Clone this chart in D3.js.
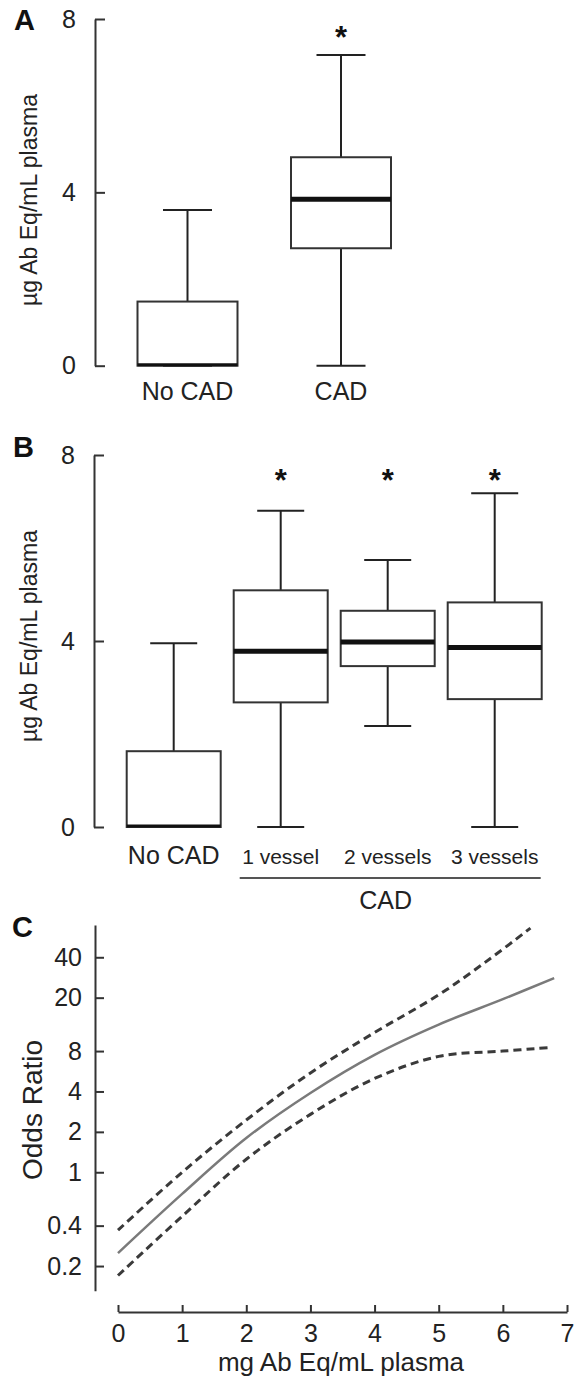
<!DOCTYPE html>
<html>
<head>
<meta charset="utf-8">
<script src="https://cdn.jsdelivr.net/npm/d3@7"></script>
<style>
  body { margin: 0; background: #fff; }
  svg { display: block; font-family: "Liberation Sans", Arial, sans-serif; }
  .axis path, .axis line { stroke: #333; stroke-width: 2; }
  .axis text { fill: #222; }
</style>
</head>
<body>
<svg width="578" height="1379"></svg>
<script>
// Panel A - box plot, No CAD vs CAD
var catsA = ["No CAD", "CAD"];
var loA = [0, 0];
var q1A = [0, 2.71];
var medA = [0, 3.84];
var q3A = [1.48, 4.81];
var hiA = [3.59, 7.17];
var starA = [false, true];

// Panel B - box plot by number of vessels
var catsB = ["No CAD", "1 vessel", "2 vessels", "3 vessels"];
var loB = [0, 0, 2.17, 0];
var q1B = [0, 2.68, 3.46, 2.75];
var medB = [0, 3.78, 3.98, 3.86];
var q3B = [1.63, 5.09, 4.65, 4.83];
var hiB = [3.95, 6.80, 5.74, 7.18];
var starB = [false, true, true, true];

var boxTicks = [0, 4, 8];

// Panel C - odds ratio curve with confidence bands
var fitX = [0, 1, 2, 3, 4, 5, 6, 6.8];
var fitY = [0.25, 0.69, 1.8, 3.9, 7.5, 12.6, 19.5, 28];
var upX = [0, 1, 2, 3, 4, 5, 5.8, 6.43];
var upY = [0.37, 1.0, 2.45, 5.5, 11.0, 21, 39, 66];
var lowX = [0, 1, 2, 3, 4, 5, 6, 6.73];
var lowY = [0.17, 0.47, 1.25, 2.7, 5.0, 7.3, 8.0, 8.5];
var orTicks = [0.2, 0.4, 1, 2, 4, 8, 20, 40];
var xTicksC = [0, 1, 2, 3, 4, 5, 6, 7];

var svg = d3.select("svg");
svg.append("rect").attr("width", 578).attr("height", 1379).attr("fill", "#fff");

function panelLabel(txt, x, y) {
    svg.append("text")
        .attr("x", x).attr("y", y)
        .attr("font-size", 29).attr("font-weight", "bold")
        .attr("fill", "#111")
        .text(txt);
}

function yTitle(txt, x, y, size) {
    svg.append("text")
        .attr("transform", "translate(" + x + "," + y + ") rotate(-90)")
        .attr("text-anchor", "middle")
        .attr("font-size", size)
        .attr("fill", "#222")
        .text(txt);
}

/*
Draws one box plot panel
*/
function boxPanel(o) {
    var y = d3.scaleLinear().domain([0, 8]).range([o.y0, o.y8]);
    var x = d3.scalePoint().domain(o.cats).range([o.c0, o.c1]);
    var g = svg.append("g");

    g.append("g")
        .attr("class", "axis")
        .attr("transform", "translate(" + o.axisX + ",0)")
        .call(d3.axisLeft(y).tickValues(boxTicks).tickSizeInner(-10).tickSizeOuter(0).tickPadding(19))
        .call(function(a) { a.selectAll("text").attr("font-size", 25); });

    var rows = o.cats.map(function(c, i) {
        return {cat: c, lo: o.lo[i], q1: o.q1[i], med: o.med[i], q3: o.q3[i], hi: o.hi[i], star: o.star[i]};
    });

    var b = g.selectAll(".bx").data(rows).enter().append("g").attr("class", "bx");

    // whiskers
    b.append("line")
        .attr("x1", function(d) { return x(d.cat); })
        .attr("x2", function(d) { return x(d.cat); })
        .attr("y1", function(d) { return y(d.hi); })
        .attr("y2", function(d) { return y(d.q3); })
        .attr("stroke", "#222").attr("stroke-width", 2);
    b.append("line")
        .attr("x1", function(d) { return x(d.cat); })
        .attr("x2", function(d) { return x(d.cat); })
        .attr("y1", function(d) { return y(d.q1); })
        .attr("y2", function(d) { return y(d.lo); })
        .attr("stroke", "#222").attr("stroke-width", 2);
    b.append("line")
        .attr("x1", function(d) { return x(d.cat) - o.cap / 2; })
        .attr("x2", function(d) { return x(d.cat) + o.cap / 2; })
        .attr("y1", function(d) { return y(d.hi); })
        .attr("y2", function(d) { return y(d.hi); })
        .attr("stroke", "#222").attr("stroke-width", 2);
    b.append("line")
        .attr("x1", function(d) { return x(d.cat) - o.cap / 2; })
        .attr("x2", function(d) { return x(d.cat) + o.cap / 2; })
        .attr("y1", function(d) { return y(d.lo); })
        .attr("y2", function(d) { return y(d.lo); })
        .attr("stroke", "#222").attr("stroke-width", 2);

    // box
    b.append("rect")
        .attr("x", function(d) { return x(d.cat) - o.bw / 2; })
        .attr("width", o.bw)
        .attr("y", function(d) { return y(d.q3); })
        .attr("height", function(d) { return y(d.q1) - y(d.q3); })
        .attr("fill", "#fff")
        .attr("stroke", "#333").attr("stroke-width", 2);

    // median
    b.append("line")
        .attr("x1", function(d) { return x(d.cat) - o.bw / 2; })
        .attr("x2", function(d) { return x(d.cat) + o.bw / 2; })
        .attr("y1", function(d) { return y(d.med) - (d.med == 0 ? 1 : 0); })
        .attr("y2", function(d) { return y(d.med) - (d.med == 0 ? 1 : 0); })
        .attr("stroke", "#111").attr("stroke-width", function(d) { return d.med == 0 ? 3 : 5; });

    // asterisks
    b.filter(function(d) { return d.star; })
        .append("text")
        .attr("x", function(d) { return x(d.cat); })
        .attr("y", o.starY)
        .attr("text-anchor", "middle")
        .attr("font-size", 31).attr("font-weight", "bold")
        .attr("fill", "#111")
        .text("*");

    // category labels
    b.append("text")
        .attr("x", function(d) { return x(d.cat); })
        .attr("y", o.labY)
        .attr("text-anchor", "middle")
        .attr("font-size", function(d) { return d.cat.indexOf("vessel") >= 0 ? 21 : 25; })
        .attr("fill", "#222")
        .text(function(d) { return d.cat; });

    return x;
}

// ---- Panel A
panelLabel("A", 14, 30);
yTitle("\u00b5g Ab Eq/mL plasma", 37, 200, 23);
boxPanel({
    cats: catsA, lo: loA, q1: q1A, med: medA, q3: q3A, hi: hiA, star: starA,
    y0: 365.7, y8: 19, c0: 187.5, c1: 341, axisX: 95, bw: 100, cap: 49,
    starY: 48, labY: 400
});

// ---- Panel B
panelLabel("B", 13, 457);
yTitle("\u00b5g Ab Eq/mL plasma", 37, 636, 23);
var xB = boxPanel({
    cats: catsB, lo: loB, q1: q1B, med: medB, q3: q3B, hi: hiB, star: starB,
    y0: 827, y8: 455, c0: 173.7, c1: 494.7, axisX: 94, bw: 94, cap: 47,
    starY: 491, labY: 864
});

// CAD bracket under the three vessel groups
svg.append("line")
    .attr("x1", xB("1 vessel") - 41).attr("x2", xB("3 vessels") + 46)
    .attr("y1", 878).attr("y2", 878)
    .attr("stroke", "#555").attr("stroke-width", 2);
svg.append("text")
    .attr("x", xB("2 vessels") - 2).attr("y", 909)
    .attr("text-anchor", "middle")
    .attr("font-size", 25).attr("fill", "#222")
    .text("CAD");

// ---- Panel C
panelLabel("C", 12, 937);

var xC = d3.scaleLinear().domain([0, 7]).range([118, 567]);
var yC = d3.scaleLog().domain([0.131, 69.6]).range([1290.7, 925]);

svg.append("g")
    .attr("class", "axis")
    .attr("transform", "translate(95,0)")
    .call(d3.axisLeft(yC).tickValues(orTicks).tickFormat(function(d) { return String(d); })
        .tickSizeInner(-9).tickSizeOuter(0).tickPadding(13))
    .call(function(a) { a.selectAll("text").attr("font-size", 25); });

svg.append("g")
    .attr("class", "axis")
    .attr("transform", "translate(0,1312)")
    .call(d3.axisBottom(xC).tickValues(xTicksC).tickFormat(d3.format("d"))
        .tickSizeInner(-7).tickSizeOuter(0).tickPadding(12))
    .call(function(a) { a.selectAll("text").attr("font-size", 25); });

yTitle("Odds Ratio", 42, 1110, 28);

svg.append("text")
    .attr("x", 341).attr("y", 1371)
    .attr("text-anchor", "middle")
    .attr("font-size", 26).attr("fill", "#222")
    .text("mg Ab Eq/mL plasma");

var line = d3.line()
    .x(function(d) { return xC(d[0]); })
    .y(function(d) { return yC(d[1]); })
    .curve(d3.curveCatmullRom.alpha(0.5));

function pairs(xs, ys) { return xs.map(function(v, i) { return [v, ys[i]]; }); }

svg.append("path")
    .attr("d", line(pairs(upX, upY)))
    .attr("fill", "none").attr("stroke", "#3a3a3a")
    .attr("stroke-width", 3).attr("stroke-dasharray", "8,5");
svg.append("path")
    .attr("d", line(pairs(lowX, lowY)))
    .attr("fill", "none").attr("stroke", "#3a3a3a")
    .attr("stroke-width", 3).attr("stroke-dasharray", "8,5");
svg.append("path")
    .attr("d", line(pairs(fitX, fitY)))
    .attr("fill", "none").attr("stroke", "#7a7a7a")
    .attr("stroke-width", 2.5);
</script>
</body>
</html>
